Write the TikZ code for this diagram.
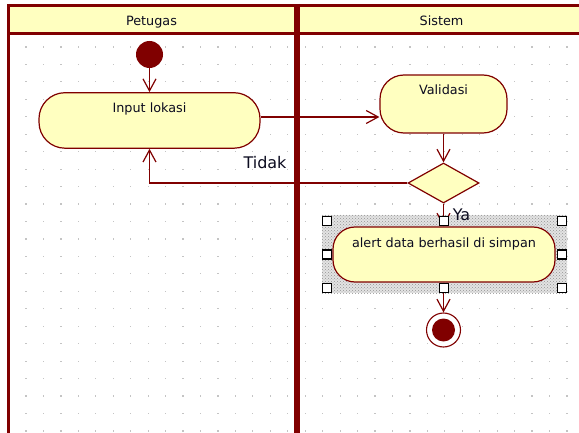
\documentclass[tikz,border=0pt]{standalone}
\usepackage{fontspec}
\setmainfont{DejaVu Sans}
\usetikzlibrary{arrows.meta,shapes.geometric,patterns}

\definecolor{umlred}{HTML}{800000}
\definecolor{umlfill}{HTML}{FFFFC0}
\definecolor{griddot}{HTML}{C4C4C4}
\definecolor{labelink}{HTML}{0C0C20}

\tikzset{
  lanerule/.style={draw=umlred},
  activity/.style={draw=umlred, fill=umlfill, line width=1.2pt, inner sep=0pt,
    font=\fontsize{12.8}{15}\selectfont, text=labelink},
  decision/.style={diamond, draw=umlred, fill=umlfill, line width=1.2pt,
    inner sep=0pt, minimum width=71pt, minimum height=40pt},
  startnode/.style={circle, fill=umlred, inner sep=0pt, minimum size=27pt},
  endnode/.style={circle, draw=umlred, fill=white, line width=1.1pt, inner sep=0pt,
    minimum size=34pt,
    path picture={\fill[umlred] (path picture bounding box.center) circle (11.5pt);}},
  flow/.style={draw=umlred, line width=1.2pt,
    -{Straight Barb[length=12pt,width=13pt,line width=1.2pt]}},
  guard/.style={font=\fontsize{16}{18}\selectfont, text=labelink, inner sep=0pt},
  lanetitle/.style={font=\fontsize{12.8}{15}\selectfont, text=labelink, inner sep=0pt, anchor=base},
  handle/.style={draw=black, fill=white, line width=1.2pt, inner sep=0pt,
    minimum size=9pt, rectangle},
  selection/.style={rectangle, inner sep=0pt, preaction={fill=gray!22},
    pattern=crosshatch dots, pattern color=gray!85}
}

\begin{document}
\begin{tikzpicture}[x=1pt, y=-1pt]
  \useasboundingbox (0,0) rectangle (579,433);
  \fill[white] (0,0) rectangle (579,433);

  % background dot grid
  \foreach \i in {0,...,31} {
    \foreach \j in {0,...,22} {
      \fill[griddot] ({26+17.45*\i-0.6},{47+17.45*\j-0.6}) rectangle ++(1.2,1.2);
    }
  }

  % swimlane headers and borders
  \fill[umlfill] (8,5) rectangle (579,34);
  \draw[lanerule, line width=2.5pt] (7,5.3) -- (579,5.3);
  \draw[lanerule, line width=3pt] (8,34) -- (579,34);
  \draw[lanerule, line width=3pt] (8.5,4) -- (8.5,433);
  \draw[lanerule, line width=5.5pt] (297,4) -- (297,433);
  \node[lanetitle] (tPetugas) at (151.5,26) {Petugas};
  \node[lanetitle] (tSistem) at (441.5,26) {Sistem};

  % selection frame around the last activity
  \node[selection, minimum width=245pt, minimum height=78pt] (sel) at (444.5,254) {};

  % activities
  \node[startnode] (start) at (149.5,54.5) {};
  \node[activity, rounded corners=26pt, minimum width=221pt,
        text height=19.5pt, text depth=36pt] (in) at (149.5,120.45) {Input lokasi};
  \node[activity, rounded corners=24pt, minimum width=127pt,
        text height=19.5pt, text depth=38.5pt] (val) at (443.5,104) {Validasi};
  \node[decision] (dia) at (443.5,183) {};
  \node[activity, rounded corners=22pt, minimum width=222pt,
        text height=20.5pt, text depth=34.5pt] (alert) at (444,254.5) {alert data berhasil di simpan};
  \node[endnode] (final) at (443.5,330) {};

  % control flows
  \coordinate (flowy) at (0,117);
  \draw[flow] (start) -- (in);
  \draw[flow] (in.east |- flowy) -- (val.west |- flowy);
  \draw[flow] (val.south) -- (dia.north);
  \draw[flow] (dia.west) -| (in.south);
  \draw[flow] (dia.south) -- (alert.north -| dia.south);
  \draw[flow] (alert.south -| final.north) -- (final.north);

  % guard labels
  \node[guard] (gTidak) at (265,163) {Tidak};
  \node[guard] (gYa) at (461.5,215) {Ya};

  % selection handles
  \node[handle] (h1) at (327,221) {};
  \node[handle] (h2) at (444,221) {};
  \node[handle] (h3) at (562,221) {};
  \node[handle] (h4) at (327,254.5) {};
  \node[handle] (h5) at (562,254.5) {};
  \node[handle] (h6) at (327,288) {};
  \node[handle] (h7) at (444,288) {};
  \node[handle] (h8) at (562,288) {};
\end{tikzpicture}
\end{document}
